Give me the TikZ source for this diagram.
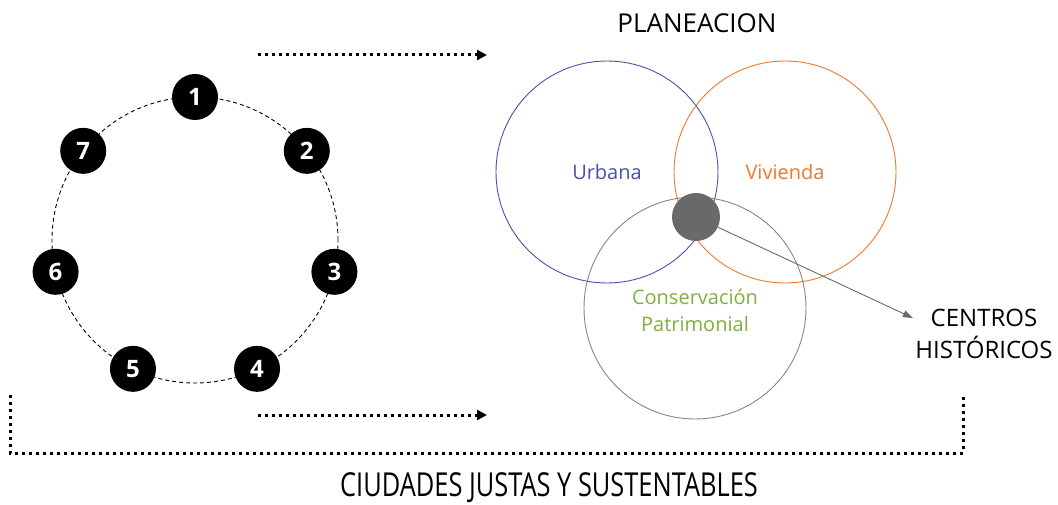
\documentclass[tikz,border=0pt]{standalone}
\usepackage{graphicx}
\usepackage{fontspec}
\setmainfont{Open Sans}
\usetikzlibrary{arrows.meta,positioning,calc}
\definecolor{urbblue}{RGB}{75,80,170}
\definecolor{vivorange}{RGB}{240,120,45}
\definecolor{congreen}{RGB}{125,175,65}
\definecolor{conring}{RGB}{135,135,120}
\definecolor{hubgray}{RGB}{105,105,105}

\begin{document}
\begin{tikzpicture}[
    x=1pt, y=1pt,
    ringnode/.style={circle, fill=black, text=white, minimum size=46pt, inner sep=0pt,
                 font=\fontsize{24}{24}\selectfont\bfseries},
    venn/.style={circle, minimum size=222pt, inner sep=0pt, line width=0.9pt},
    vennlabel/.style={font=\fontsize{20}{27}\selectfont, align=center},
    caption/.style={font=\fontsize{26}{32}\selectfont, align=center},
    dotline/.style={line width=3pt, dash pattern=on 3pt off 4pt},
    dotarr/.style={dotline, -{Triangle[length=10pt, width=10pt]}}
]
\useasboundingbox (0,0) rectangle (1058,504);

% ring of seven steps
\coordinate (ring) at (195,264);
\draw[line width=0.9pt, dash pattern=on 4pt off 3pt] (ring) circle (143);
\foreach \i in {1,...,7}
    \node[ringnode] (s\i) at ($(ring)+({90-360/7*(\i-1)}:143)$) {\i};

% dotted arrows and bracket
\coordinate (topa) at (258,449);
\coordinate (topb) at (487,449);
\coordinate (bota) at (258,89);
\coordinate (botb) at (487,89);
\draw[dotarr] (topa) -- (topb);
\draw[dotarr] (bota) -- (botb);
\draw[dotline] (10,109) -- (10,51) -- (963,51) -- (963,109);
\node[caption, font=\fontsize{33}{33}\selectfont] (ciudades) at (549,16)
    {\scalebox{0.77}[1]{CIUDADES JUSTAS Y SUSTENTABLES}};

% venn of plans
\node[venn, draw=urbblue] (urb) at (607,332) {};
\node[venn, draw=vivorange] (viv) at (785,332) {};
\node[venn, draw=conring] (con) at (695,196) {};
\node[caption] (plan) at (697,481) {PLANEACION};
\node[vennlabel, text=urbblue] at (urb) {Urbana};
\node[vennlabel, text=vivorange] at (viv) {Vivienda};
\node[vennlabel, text=congreen] at (695,194) {Conservación\\Patrimonial};
\node[circle, fill=hubgray, minimum size=48pt, inner sep=0pt] (hub) at (696,287) {};

% centros historicos
\node[caption, font=\fontsize{24}{32}\selectfont] (centros) at (984,170) {CENTROS\\HISTÓRICOS};
\draw[hubgray, line width=0.9pt, -{Triangle[length=10pt, width=7pt]}]
    (hub) -- ($(centros.west)+(1,16)$);
\end{tikzpicture}
\end{document}
